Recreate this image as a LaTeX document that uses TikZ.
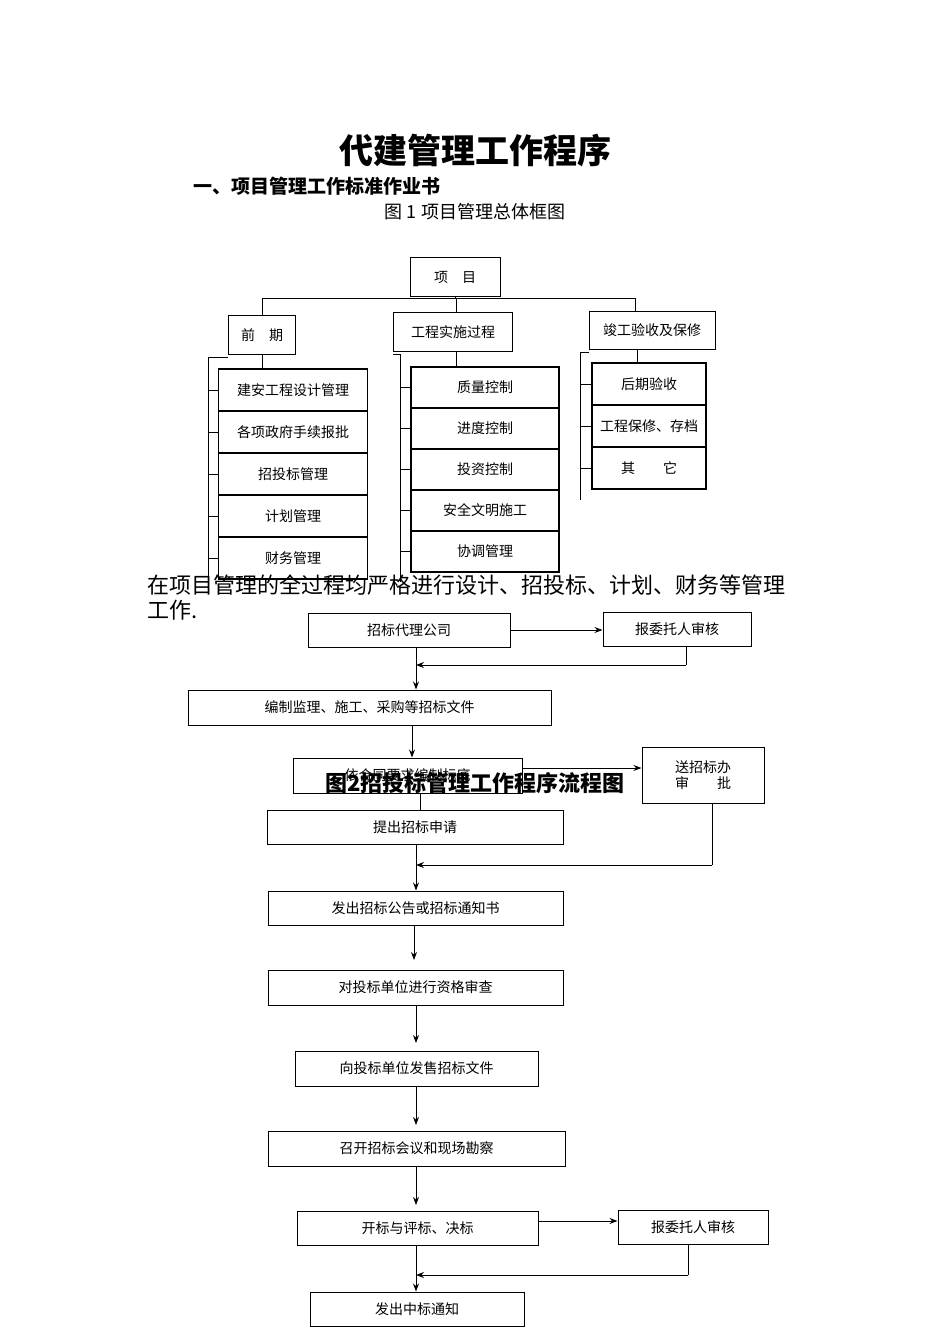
\documentclass[tikz,border=0pt]{standalone}
\usepackage{fontspec}
\setmainfont{Noto Sans CJK SC}
\usetikzlibrary{arrows.meta}
\begin{document}
\begin{tikzpicture}[x=1pt,y=-1pt,
 bx/.style={draw,line width=1pt,inner sep=0pt,font=\fontsize{14}{16}\selectfont},
 cb/.style={draw,line width=1.4pt,inner sep=0pt,font=\fontsize{14}{16}\selectfont},
 ln/.style={line width=0.9pt},
 ar/.style={line width=0.9pt,-{Stealth[length=8pt,width=6pt]}}]
\useasboundingbox (0,0) rectangle (950,1344);
\node (title) at (475,150) {\fontsize{34}{38}\selectfont\bfseries 代建管理工作程序};
\node[anchor=west] (head) at (190,186) {\fontsize{19}{22}\selectfont\bfseries 一、项目管理工作标准作业书};
\node (fig1) at (475,212) {\fontsize{18}{20}\selectfont 图 1 项目管理总体框图};
% chart 1
\node[bx,minimum width=90pt,minimum height=39pt] (xm) at (455,277) {项\quad 目};
\node[bx,minimum width=67pt,minimum height=39pt] (qq) at (262,335) {前\quad 期};
\node[bx,minimum width=119pt,minimum height=39pt] (gc) at (453,332) {工程实施过程};
\node[bx,minimum width=126pt,minimum height=38pt] (jg) at (652,330) {竣工验收及保修};
\draw[ln] (xm.south) -- (455,298);
\draw[ln] (262,316) -- (262,298) -- (635,298) -- (635,311);
\draw[ln] (456,298) -- (456,313);
\foreach \t [count=\i from 0] in {建安工程设计管理,各项政府手续报批,招投标管理,计划管理,财务管理}{
 \node[cb,minimum width=149pt,minimum height=42pt] (l\i) at (293,390+42*\i) {\t};
 \draw[ln] (208,390+42*\i) -- (219,390+42*\i);}
\foreach \t [count=\i from 0] in {质量控制,进度控制,投资控制,安全文明施工,协调管理}{
 \node[cb,minimum width=148pt,minimum height=41pt] (m\i) at (485,387.5+41*\i) {\t};
 \draw[ln] (400,387+41*\i) -- (411,387+41*\i);}
\foreach \t [count=\i from 0] in {后期验收,工程保修、存档,其\qquad 它}{
 \node[cb,minimum width=114pt,minimum height=42pt] (r\i) at (649,384+42*\i) {\t};
 \draw[ln] (580,384+42*\i) -- (592,384+42*\i);}
\draw[ln] (262,355) -- (262,369);
\draw[ln] (456,352) -- (456,367);
\draw[ln] (637,349) -- (637,363);
\draw[ln] (228,357) -- (208,357) -- (208,582);
\draw[ln] (393,354) -- (400,354) -- (400,582);
\draw[ln] (589,352) -- (580,352) -- (580,500);
\node[anchor=west] (p1) at (144,585) {\fontsize{22}{25}\selectfont 在项目管理的全过程均严格进行设计、招投标、计划、财务等管理};
\node[anchor=west] (p2) at (144,610) {\fontsize{22}{25}\selectfont 工作.};
% chart 2
\node[bx,minimum width=202pt,minimum height=34pt] (a1) at (409,630) {招标代理公司};
\node[bx,minimum width=148pt,minimum height=34pt] (a2) at (677,629) {报委托人审核};
\node[bx,minimum width=363pt,minimum height=35pt] (b) at (369.5,707.5) {编制监理、施工、采购等招标文件};
\node[bx,minimum width=229pt,minimum height=35pt] (c) at (407.5,775.5) {依合同要求编制标底};
\node[bx,minimum width=122pt,minimum height=56pt,align=center] (s) at (703,775) {送招标办\\审\qquad 批};
\node (fig2) at (475,783) {\fontsize{22}{25}\selectfont\bfseries 图2招投标管理工作程序流程图};
\node[bx,minimum width=296pt,minimum height=34pt] (d) at (415,827) {提出招标申请};
\node[bx,minimum width=295pt,minimum height=34pt] (e) at (415.5,908) {发出招标公告或招标通知书};
\node[bx,minimum width=295pt,minimum height=35pt] (f) at (415.5,987.5) {对投标单位进行资格审查};
\node[bx,minimum width=243pt,minimum height=35pt] (g) at (416.5,1068.5) {向投标单位发售招标文件};
\node[bx,minimum width=297pt,minimum height=35pt] (h) at (416.5,1148.5) {召开招标会议和现场勘察};
\node[bx,minimum width=241pt,minimum height=34pt] (i1) at (417.5,1228) {开标与评标、决标};
\node[bx,minimum width=150pt,minimum height=34pt] (i2) at (693,1227) {报委托人审核};
\node[bx,minimum width=214pt,minimum height=34pt] (j) at (417,1309) {发出中标通知};
\coordinate (k1) at (416,665);
\coordinate (k2) at (416,865);
\coordinate (k3) at (416,1275);
\draw[ar] (a1.east) -- (a2.west |- a1.east);
\draw[ln] (a2.south -| 686,0) -- (686,665);
\draw[ar] (686,665) -- (k1);
\draw[ar] (a1.south -| 416,0) -- (b.north -| 416,0);
\draw[ar] (b.south -| 412,0) -- (c.north -| 412,0);
\draw[ar] (c.east |- 0,768) -- (s.west |- 0,768);
\draw[ln] (c.south -| 420,0) -- (d.north -| 420,0);
\draw[ln] (s.south -| 712,0) -- (712,865);
\draw[ar] (712,865) -- (k2);
\draw[ar] (d.south -| 416,0) -- (e.north -| 416,0);
\draw[ar] (e.south -| 414,0) -- (414,960);
\draw[ar] (f.south -| 416,0) -- (416,1043);
\draw[ar] (g.south -| 416,0) -- (416,1125);
\draw[ar] (h.south -| 416,0) -- (416,1205);
\draw[ar] (i1.east |- 0,1221) -- (i2.west |- 0,1221);
\draw[ln] (i2.south -| 688,0) -- (688,1275);
\draw[ar] (688,1275) -- (k3);
\draw[ar] (i1.south -| 416,0) -- (j.north -| 416,0);
\end{tikzpicture}
\end{document}
